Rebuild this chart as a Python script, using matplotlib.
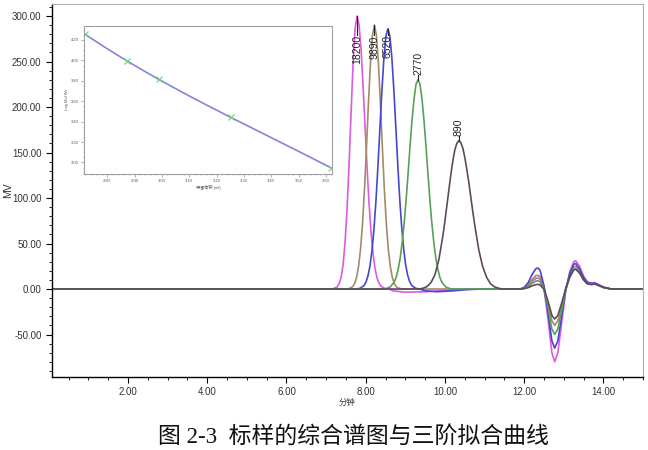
import numpy as np
import matplotlib.pyplot as plt
from matplotlib.ticker import MultipleLocator, AutoMinorLocator, FormatStrFormatter

plt.rcParams['font.family'] = ['Liberation Sans', 'Noto Sans CJK SC']

# standards (molecular weight) and their calibration points (retention volume, ml)
standard_mw = [18200, 9890, 6520, 2770, 890]
cal_volume = [2.717, 2.871, 2.990, 3.251, 3.617]

# chromatogram traces (minutes, mV)
t_18200 = [7.0, 7.18, 7.28, 7.33, 7.38, 7.43, 7.48, 7.53, 7.58, 7.63, 7.68, 7.73, 7.78,
           7.83, 7.88, 7.93, 7.98, 8.03, 8.08, 8.13, 8.18, 8.23, 8.28, 8.33, 8.38, 8.48,
           8.58, 8.7, 9.0, 9.5, 10.0, 10.5, 11.0]
mv_18200 = [0, 0.3, 2.3, 5.8, 13, 27, 52, 89, 137, 193, 247, 286, 300,
            291, 265, 226, 182, 137, 97, 65, 41, 24, 13, 7, 3.3, 0.7,
            0, -2, -3.5, -3, -1.5, -0.5, 0]

t_9890 = [7.4, 7.52, 7.62, 7.67, 7.72, 7.77, 7.82, 7.87, 7.92, 7.97, 8.02, 8.07, 8.12,
          8.17, 8.22, 8.27, 8.32, 8.37, 8.42, 8.47, 8.52, 8.57, 8.62, 8.67, 8.72, 8.77,
          8.82, 8.92, 9.1]
mv_9890 = [0, 0, 1.1, 2.7, 6, 13, 25, 44, 72, 110, 156, 205, 249,
           279, 290, 279, 249, 205, 156, 110, 72, 44, 25, 13, 6, 2.7,
           1.1, 0, 0]

t_6520 = [7.6, 7.76, 7.86, 7.96, 8.01, 8.06, 8.11, 8.16, 8.21, 8.26, 8.31, 8.36, 8.41,
          8.46, 8.51, 8.56, 8.61, 8.66, 8.71, 8.76, 8.81, 8.86, 8.91, 8.96, 9.01, 9.06,
          9.11, 9.16, 9.26, 9.36, 9.5, 9.8, 10.2, 10.6, 11.0]
mv_6520 = [0, 0, 0.8, 4, 8, 15, 26, 43, 67, 98, 136, 178, 219,
           254, 278, 286, 278, 254, 219, 178, 136, 98, 67, 43, 26, 15,
           8, 4, 0.8, 0, -2, -3, -2, -0.5, 0]

t_2770 = [8.2, 8.42, 8.52, 8.62, 8.72, 8.77, 8.82, 8.87, 8.92, 8.97, 9.02, 9.07, 9.12,
          9.17, 9.22, 9.27, 9.32, 9.37, 9.42, 9.47, 9.52, 9.57, 9.62, 9.67, 9.72, 9.77,
          9.82, 9.87, 9.92, 10.02, 10.12, 10.22, 10.4]
mv_2770 = [0, 0, 0.5, 2.3, 7.7, 13, 22, 34, 51, 72, 98, 127, 158,
           186, 209, 225, 230, 225, 209, 186, 158, 127, 98, 72, 51, 34,
           22, 13, 7.7, 2.3, 0.5, 0, 0]

t_890 = [9.2, 9.35, 9.45, 9.55, 9.65, 9.75, 9.85, 9.95, 10.0, 10.05, 10.1, 10.15, 10.2,
         10.25, 10.3, 10.35, 10.4, 10.45, 10.5, 10.55, 10.6, 10.65, 10.7, 10.75, 10.85,
         10.95, 11.05, 11.15, 11.25, 11.35, 11.45, 11.6]
mv_890 = [0, 0, 0.9, 2.8, 7.2, 16, 33, 59, 75, 92, 109, 126, 141,
          153, 160, 163, 161, 155, 145, 132, 118, 102, 86, 71, 44,
          25, 13, 5.8, 2.4, 0.9, 0, 0]

# system (solvent) peaks, same time points for all runs
t_solvent = [11.9, 12.0, 12.1, 12.2, 12.3, 12.35, 12.4, 12.5, 12.6, 12.7, 12.77, 12.85,
             12.95, 13.05, 13.15, 13.25, 13.3, 13.4, 13.5, 13.6, 13.7, 13.78, 13.9, 14.0, 14.2]
sol_18200 = [0, 1, 3.6, 8.4, 11.8, 12, 10.8, -0.4, -32, -70, -80, -70,
             -36, -1.8, 18.6, 30, 31, 25, 14, 7.8, 6.5, 7, 4.5, 2, 0]
sol_9890 = [0, 1.2, 4.5, 10.5, 14.7, 15, 13.5, 2.5, -16, -35, -40, -35,
            -18, 0.6, 15, 24, 25, 20, 11, 6.2, 5.5, 6, 4, 2, 0]
sol_6520 = [0, 1.8, 6.9, 16, 22.5, 23, 20.7, 3.6, -26, -57, -65, -57,
            -29, -1, 17, 27, 28, 22, 12.6, 7, 6, 6.5, 4, 2, 0]
sol_2770 = [0, 0.7, 2.7, 6.3, 8.8, 9, 8.1, 0.2, -20, -44, -50, -44,
            -22.5, -0.7, 13, 21, 22, 17.6, 10, 5.5, 5, 5.5, 3.5, 1.7, 0]
sol_890 = [0, 0.4, 1.5, 3.5, 4.9, 5, 4.5, -0.1, -13, -29, -33, -29,
           -15, 0.7, 13, 21, 22, 17.6, 10, 5.5, 5, 5.5, 3.5, 1.7, 0]

traces = [
    (t_18200, mv_18200, sol_18200, '#de5ade'),
    (t_9890, mv_9890, sol_9890, '#a48a66'),
    (t_6520, mv_6520, sol_6520, '#4646d2'),
    (t_2770, mv_2770, sol_2770, '#58a058'),
    (t_890, mv_890, sol_890, '#5e4a5a'),
]

fig = plt.figure(figsize=(6.48, 4.5), dpi=100)
ax = fig.add_axes([0.0802, 0.1622, 0.9121, 0.8289])

for (t, mv, sol, col), mw in zip(traces, standard_mw):
    tt = [0.08] + t + t_solvent + [15.0]
    yy = [0] + mv + sol + [0]
    ax.plot(tt, yy, color=col, lw=1.2)

    # peak label
    i = int(np.argmax(mv))
    tp, hp = t[i], mv[i]
    if hp > 260:
        ax.plot([tp, tp], [hp, 279], color='#222222', lw=0.8)
        ax.text(tp, 279, str(mw), rotation=90, ha='center', va='top',
                fontsize=7.5, color='#222222')
    else:
        ax.plot([tp, tp], [hp, hp + 5], color='#222222', lw=0.8)
        ax.text(tp, hp + 5, str(mw), rotation=90, ha='center', va='bottom',
                fontsize=7.5, color='#222222')

ax.set_xlim(0.08, 15.0)
ax.set_ylim(-96.7, 313.2)
ax.xaxis.set_major_locator(MultipleLocator(2))
ax.xaxis.set_minor_locator(MultipleLocator(0.5))
ax.yaxis.set_major_locator(MultipleLocator(50))
ax.yaxis.set_minor_locator(MultipleLocator(10))
ax.xaxis.set_major_formatter(FormatStrFormatter('%.2f'))
ax.yaxis.set_major_formatter(FormatStrFormatter('%.2f'))
ax.tick_params(which='major', length=4, width=0.8, labelsize=7, labelcolor='#333333')
ax.tick_params(which='minor', length=2.5, width=0.6)
for s in ['left', 'bottom']:
    ax.spines[s].set_color('black')
    ax.spines[s].set_linewidth(1.0)
for s in ['top', 'right']:
    ax.spines[s].set_color('#b0b0b0')
    ax.spines[s].set_linewidth(0.8)

fig.text(8 / 648, 1 - 190 / 450, 'MV', rotation=90, ha='center', va='center',
         fontsize=7.5, color='#333333')
fig.text(347 / 648, 1 - 403 / 450, '分钟', ha='center', va='center',
         fontsize=6, color='#333333')
fig.text(353 / 648, 1 - 437 / 450, '图 2-3  标样的综合谱图与三阶拟合曲线',
         ha='center', va='center', fontsize=16.5, color='#111111',
         family=['Liberation Serif', 'Noto Sans CJK SC'])

# inset: third order calibration fit
ax_in = fig.add_axes([0.1296, 0.6133, 0.3827, 0.3289])
log_mw = np.log10(standard_mw)
coef = np.polyfit(cal_volume, log_mw, 3)
vv = np.linspace(2.70, 3.63, 200)
ax_in.plot(vv, np.polyval(coef, vv), color='#8484dc', lw=1.2)
ax_in.plot(cal_volume, log_mw, 'x', color='#7ccf7c', ms=4, mew=0.8)
ax_in.set_xlim(2.715, 3.622)
ax_in.set_ylim(2.887, 4.337)
ax_in.xaxis.set_major_locator(MultipleLocator(0.1))
ax_in.xaxis.set_minor_locator(AutoMinorLocator(5))
ax_in.yaxis.set_major_locator(MultipleLocator(0.2))
ax_in.yaxis.set_minor_locator(AutoMinorLocator(4))
ax_in.xaxis.set_major_formatter(FormatStrFormatter('%.2f'))
ax_in.yaxis.set_major_formatter(FormatStrFormatter('%.2f'))
ax_in.tick_params(which='major', length=2, width=0.5, labelsize=3, pad=1.5,
                  labelcolor='#555555', color='#888888')
ax_in.tick_params(which='minor', length=1, width=0.4, color='#888888')
for s in ax_in.spines.values():
    s.set_color('#a0a0a0')
    s.set_linewidth(0.8)
ax_in.set_ylabel('Log Mol Wt', fontsize=3, labelpad=1.5, color='#555555')
ax_in.set_xlabel('保留体积 (ml)', fontsize=3, labelpad=1.5, color='#555555')

fig.savefig('out.png', dpi=100)
